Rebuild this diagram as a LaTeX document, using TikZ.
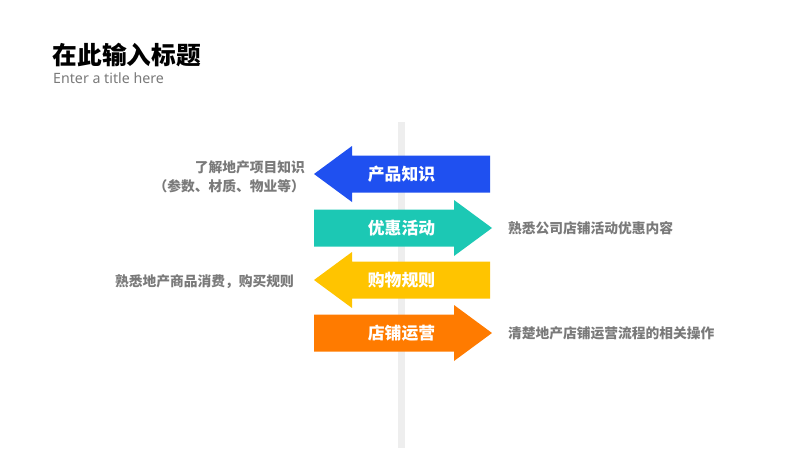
\documentclass[tikz,border=0pt]{standalone}
\usepackage{fontspec}
\setmainfont{Noto Sans}
\newfontfamily\cjk{Noto Sans CJK SC}
\definecolor{cblue}{HTML}{1F50F0}
\definecolor{cgreen}{HTML}{1CC8B4}
\definecolor{cyellow}{HTML}{FFC400}
\definecolor{corange}{HTML}{FF7B00}
\definecolor{cgray}{HTML}{7A7A7A}
\definecolor{cbar}{HTML}{EEEEEE}
\tikzset{
  arrowlabel/.style={text=white, font=\cjk\bfseries\fontsize{16.8}{20}\selectfont, inner sep=0pt},
  sidetext/.style={text=cgray, font=\cjk\bfseries\fontsize{13.75}{18.5}\selectfont, inner sep=0pt},
}
\begin{document}
\begin{tikzpicture}[x=1pt,y=-1pt]
\useasboundingbox (0,0) rectangle (800,450);
\fill[white] (0,0) rectangle (800,450);
% vertical bar
\fill[cbar] (398,122) rectangle (405,448);
% title
\node[anchor=west, inner sep=0pt, font=\cjk\bfseries\fontsize{24.7}{28}\selectfont] (title) at (52.5,55) {在此输入标题};
\node[anchor=west, inner sep=0pt, text=cgray, font=\fontsize{14.2}{17}\selectfont] (sub) at (53,78) {Enter a title here};
% arrows
\fill[cblue] (490,155.5) -- (352,155.5) -- (352,146) -- (314,174) -- (352,202) -- (352,192.5) -- (490,192.5) -- cycle;
\fill[cgreen] (314,209.5) -- (454,209.5) -- (454,200) -- (492,228) -- (454,256) -- (454,246.5) -- (314,246.5) -- cycle;
\fill[cyellow] (490,261.5) -- (352,261.5) -- (352,252) -- (314,280) -- (352,308) -- (352,298.5) -- (490,298.5) -- cycle;
\fill[corange] (314,314.5) -- (454,314.5) -- (454,305) -- (492,333) -- (454,361) -- (454,351.5) -- (314,351.5) -- cycle;
\node[arrowlabel] (a1) at (401.5,174) {产品知识};
\node[arrowlabel] (a2) at (401.5,228) {优惠活动};
\node[arrowlabel] (a3) at (401.5,280) {购物规则};
\node[arrowlabel] (a4) at (401.5,333) {店铺运营};
% side texts
\node[sidetext, anchor=east, align=right] (t1) at (305,177) {了解地产项目知识\\（参数、材质、物业等）};
\node[sidetext, anchor=west] (t2) at (508,228) {熟悉公司店铺活动优惠内容};
\node[sidetext, anchor=east] (t3) at (294,282) {熟悉地产商品消费，购买规则};
\node[sidetext, anchor=west] (t4) at (508,333) {清楚地产店铺运营流程的相关操作};
\end{tikzpicture}
\end{document}
